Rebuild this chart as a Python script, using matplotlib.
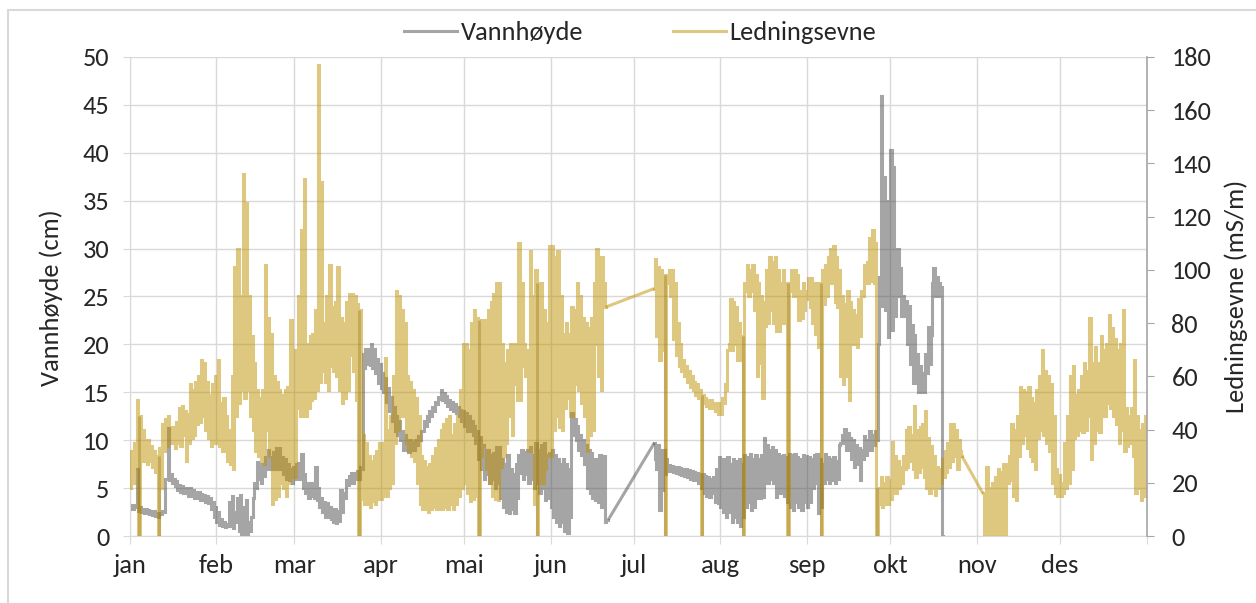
import matplotlib
matplotlib.use("Agg")
import matplotlib.pyplot as plt
import numpy as np
from matplotlib import font_manager
from matplotlib.lines import Line2D
from matplotlib.patches import Rectangle

available = {f.name for f in font_manager.fontManager.ttflist}
plt.rcParams["font.family"] = [f for f in ["Carlito", "Lato"] if f in available] + ["DejaVu Sans"]

# two readings per day (first, second); None = no data that day
# Vannhøyde (cm)
level_jan = [(2.8, 3.2), (2.8, 3.2), (3, 7), (2.6, 3), (2.5, 2.8), (2.4, 2.8), (2.4, 2.7), (2.3, 2.6),
             (2.2, 2.6), (2.1, 2.4), (2.0, 2.4), (2.3, 2.6), (2.5, 6), (6, 11.3), (5.8, 6.5), (5.5, 6),
             (5.2, 5.7), (4.8, 5.3), (4.6, 5.2), (4.5, 5.0), (4.5, 5.0), (4.2, 5.0), (4.2, 4.8), (4.0, 4.6),
             (4.0, 4.6), (3.8, 4.4), (3.8, 4.3), (3.6, 4.2), (3.4, 4.0), (2.8, 3.6), (2.0, 3.0)]
level_feb = [(1.5, 2.5), (1.2, 1.8), (1.0, 1.5), (0.9, 1.3), (1, 3.5), (1.0, 4.2), (0.8, 2.5), (1.5, 4.0),
             (0.5, 4.3), (0, 3.0), (0, 3.8), (0, 1.5), (0.5, 2), (4, 5.5), (5, 7.7), (6, 7.5),
             (5.5, 7.5), (6.3, 8.2), (7, 9), (7, 8.2), (7, 8.8), (7, 9.2), (7, 9.2), (7, 8.2),
             (6.5, 8), (6, 7.5), (5.8, 7), (5.5, 7.2)]
level_mar = [(6, 7.5), (6, 7.6), (6, 8.6), (5, 6.5), (4.5, 5.5), (4, 5.5), (4.2, 5.5), (4, 7.2),
             (3.8, 5), (3, 4), (2.5, 3.5), (2, 3.4), (2, 3), (1.8, 2.8), (1.5, 2.8), (1.4, 2.6),
             (1.6, 4.8), (2.5, 4.5), (4, 5.8), (5.3, 6.3), (5.5, 6.6), (5.5, 6.6), (6, 6.8), (6, 7.2),
             (7, 19), (17.5, 19.5), (18, 19.5), (17.8, 20), (17.5, 19.5), (17, 18.5), (16, 18)]
level_apr = [(15.5, 17), (15, 16.5), (14, 15.5), (13, 14.5), (12, 13.5), (11, 12.5), (10.5, 12), (10, 11),
             (9, 10.5), (9, 10), (8.8, 10), (9, 9.8), (9, 10), (9.5, 10.4), (10, 11), (11, 12),
             (11.5, 12.5), (12, 13), (12.5, 13.5), (13, 14), (13.8, 14.5), (14.3, 15.2), (14.2, 14.9), (14, 14.6),
             (13.6, 14.2), (13.3, 14), (13, 13.8), (12.8, 13.5), (12.5, 13.2), (12, 13)]
level_mai = [(11.5, 12.8), (11, 12.5), (11, 12), (10.5, 11.5), (9.7, 11), (8, 10.3), (7, 9.5), (6, 9),
             (6.5, 9), (5.5, 8.5), (6, 8.7), (5, 9.3), (5.5, 9.3), (4, 8), (3, 7.5), (2.5, 8.5),
             (2.4, 7), (2.8, 6.5), (2.4, 7.5), (4, 8.5), (6.6, 9), (6, 8.8), (6.5, 9), (5.5, 9.3),
             (6, 8.5), (5, 9.7), (5.5, 9), (4.5, 9.5), (5, 9.7), (3.8, 8.5), (4, 8.7)]
level_jun = [(3, 9), (2, 8.5), (1.5, 8), (1, 7.5), (1.5, 8), (0.5, 7.5), (0.3, 7), (2, 12.8),
             (10.5, 12.2), (10, 11.5), (9, 10.5), (8.5, 10), (7.5, 9.5), (5, 9), (4.5, 8.7), (4, 8),
             (3.8, 8), (3.5, 8.5), (3, 8), (8.4, 1.5), (1.7, 1.7),
             None, None, None, None, None, None, None, None, None]
level_jul = [None, None, None, None, None, None, None,
             (9.7, 8), (7, 9.5), (2.7, 9), (4.8, 9), (6.5, 8), (6.8, 7.4), (6.8, 7.3), (6.7, 7.2),
             (6.6, 7.2), (6.5, 7.1), (6.4, 7.0), (6.3, 7.0), (6.2, 6.9), (6.0, 6.8), (5.8, 6.7), (5.8, 6.6),
             (5.5, 6.5), (5, 6.5), (4.5, 6.3), (4.2, 6.2), (4.1, 6), (4.5, 6.2), (3.5, 7), (3.4, 8.2)]
level_aug = [(3, 8), (2.5, 8), (2, 8.2), (2.5, 7.5), (1.5, 8), (2, 7.8), (1.5, 8), (1, 7.5),
             (2, 8.5), (3, 8.2), (3.5, 8.6), (2.7, 8), (3, 8.5), (4, 8), (4, 8.5), (4.1, 10.2),
             (5.5, 9.5), (5.5, 9), (6, 9.3), (5.5, 9), (4.1, 8.6), (4.5, 8.3), (4.5, 8.5), (4.2, 8.2),
             (3.5, 8.6), (3, 8.5), (2.7, 8.6), (3.5, 8.2), (3, 8), (2.7, 8.5), (3.5, 8.3)]
level_sep = [(3, 8.2), (3.5, 8), (5, 8.5), (5.5, 8.6), (2.4, 8), (3, 7.5), (5.5, 8.6), (6, 8.2),
             (5.5, 8), (5.8, 8.2), (5.5, 7.8), (6, 9.5), (9.7, 10.5), (9.7, 11.2), (9, 10.7), (9, 10.2),
             (8, 10), (7.2, 9.5), (7.5, 9.2), (5.8, 9), (8, 10.4), (8.5, 10), (9, 11), (9, 10.5),
             (9.5, 11), (10, 20), (27, 45.9), (24, 37.5), (23.6, 35), (20.8, 22)]
level_okt = [(40.3, 21.5), (38.5, 23), (25, 30), (25, 28), (23, 25), (23, 24.5), (20, 24), (18, 22),
             (16, 21), (16, 19), (15, 17.7), (15, 17), (15, 19), (17, 21.8), (18, 21), (26.4, 28),
             (25, 27), (25, 26.4), (26, 0)]

# Ledningsevne (mS/m)
cond_jan = [(18, 32), (20, 35), (25, 51), (0, 45), (28, 40), (28, 36), (27, 36), (28, 34),
            (26, 32), (24, 30), (0, 33), (18, 42), (32, 44), (34, 45), (35, 41), (35, 41),
            (33, 43), (35, 48), (34, 49), (38, 47), (28, 46), (35, 57), (37, 55), (38, 58),
            (42, 60), (43, 66), (45, 65), (40, 58), (37, 53), (34, 57), (35, 60)]
cond_feb = [(35, 66), (34, 50), (32, 52), (32, 45), (28, 40), (27, 60), (25, 101), (45, 108),
            (50, 90), (55, 136), (52, 125), (55, 90), (45, 75), (40, 65), (32, 55), (30, 52),
            (28, 55), (27, 102), (40, 82), (30, 76), (12, 60), (14, 58), (15, 55), (20, 53),
            (18, 55), (15, 56), (20, 81), (22, 70)]
cond_mar = [(22, 70), (48, 90), (45, 115), (45, 134), (45, 72), (48, 75), (51, 76), (52, 85),
            (55, 177), (58, 133), (62, 80), (58, 90), (55, 102), (64, 86), (62, 88), (60, 101),
            (55, 82), (50, 80), (52, 88), (55, 91), (68, 91), (62, 90), (51, 87), (0, 85),
            (14, 38), (12, 35), (12, 30), (11, 28), (13, 30), (12, 32), (14, 35)]
cond_apr = [(14, 35), (15, 67), (15, 40), (18, 45), (20, 60), (35, 92), (40, 90), (45, 85),
            (45, 80), (35, 60), (32, 58), (30, 55), (28, 52), (20, 45), (12, 30), (10, 28),
            (10, 26), (9, 27), (10, 30), (11, 33), (10, 36), (10, 40), (10, 42), (11, 44),
            (10, 45), (12, 38), (10, 42), (12, 45), (15, 55), (18, 72)]
cond_mai = [(20, 72), (16, 70), (13, 80), (14, 85), (15, 82), (0, 81), (30, 81), (34, 81),
            (25, 85), (20, 88), (15, 91), (14, 95), (13.5, 95), (26, 72), (30, 65), (35, 70),
            (45, 72), (38, 72), (57, 72), (51, 110), (51, 95), (64, 72), (60, 70), (32, 107),
            (32, 90), (12, 100), (0, 95), (20, 95), (20, 85), (25, 80), (30, 109)]
cond_jun = [(30, 109), (40, 105), (45, 107), (41, 90), (40, 76), (48, 80), (52, 76), (45, 86),
            (45, 85), (57, 95), (55, 90), (50, 82), (45, 80), (32, 78), (38, 82), (40, 95),
            (72, 108), (60, 105), (55, 105), (95, 86),
            None, None, None, None, None, None, None, None, None, None]
cond_jul = [None, None, None, None, None, None, None,
            (93, 104), (75, 101), (66, 100), (70, 98), (0, 98), (95, 100), (90, 100), (74, 95),
            (68, 80), (64, 72), (62, 66), (60, 64), (58, 62), (56, 60), (55, 58), (53, 57),
            (52, 55), (0, 53), (50, 52), (49, 51), (48, 51), (48, 50), (47, 50), (46, 50)]
cond_aug = [(46, 52), (50, 57), (55, 70), (72, 89), (70, 88), (72, 86), (66, 80), (66, 75),
            (0, 95), (92, 102), (90, 100), (92, 102), (85, 98), (60, 95), (65, 90), (52, 88),
            (79, 100), (80, 105), (85, 103), (80, 105), (77, 100), (77, 95), (80, 100), (80, 95),
            (0, 95), (92, 100), (90, 100), (90, 98), (81, 92), (82, 95), (85, 92)]
cond_sep = [(89, 97), (86, 97), (80, 95), (76, 95), (71, 95), (0, 100), (87, 102), (90, 105),
            (95, 108), (95, 109), (88, 105), (86, 100), (60, 90), (57, 87), (60, 92), (51, 88),
            (72, 85), (72, 83), (71, 89), (75, 92), (90, 102), (95, 103), (95, 112), (96, 115),
            (95, 110), (0, 18), (12, 22), (11, 20), (12, 22), (12, 21)]
cond_okt = [(14, 35.5), (16, 30), (16, 28), (18, 26), (20, 30), (25, 40), (26, 41), (28, 38),
            (25, 49), (22, 40), (24, 41), (26, 42), (22, 47), (18, 37), (16, 34), (18, 30),
            (15.4, 26), (18, 25), (20, 29), (22, 32), (24, 35), (26, 42), (28, 42), (30, 40),
            (25, 36), (32, 30), None, None, None, None, None]
cond_nov = [None, None, (16, 0), (0, 26), (0, 18), (0, 20), (0, 22), (0, 25),
            (0, 24), (0, 27), (0, 27), (20, 30), (21, 42), (15, 40), (13.5, 45), (30, 56),
            (35, 55), (38, 54), (33, 56), (30, 52), (28, 50), (25, 55), (37, 60), (40, 70),
            (38, 62), (35, 60), (32, 57), (20, 45), (16, 25), (15, 23)]
cond_des = [(15, 20), (16, 35), (18, 45), (20, 60), (25, 64), (37, 53), (38, 55), (40, 60),
            (39, 65), (40, 62), (45, 82), (29, 65), (35, 71), (40, 65), (39, 75), (45, 70),
            (45, 72), (50, 83), (48, 78), (45, 74), (42, 70), (35, 72), (40, 85), (32, 48),
            (34, 45), (35, 48), (30, 66), (16, 45), (18, 40), (13.5, 42), (15, 45)]

months = ["jan", "feb", "mar", "apr", "mai", "jun", "jul", "aug", "sep", "okt", "nov", "des"]
month_days = [31, 28, 31, 30, 31, 30, 31, 31, 30, 31, 30, 31]

level = [level_jan, level_feb, level_mar, level_apr, level_mai, level_jun,
         level_jul, level_aug, level_sep, level_okt]
cond = [cond_jan, cond_feb, cond_mar, cond_apr, cond_mai, cond_jun,
        cond_jul, cond_aug, cond_sep, cond_okt, cond_nov, cond_des]

GRAY = "#4d4d4d"
GOLD = "#bf9000"
GRID = "#d9d9d9"
TEXT = "#262626"
FS = 19
LW = 2.2


def to_runs(month_lists):
    # split into runs of consecutive days, two time stamps per day
    runs, t, v = [], [], []
    day = 0
    for month in month_lists:
        for reading in month:
            if reading is None:
                if t:
                    runs.append((np.array(t), np.array(v)))
                    t, v = [], []
            else:
                t += [day + 0.25, day + 0.75]
                v += list(reading)
            day += 1
    if t:
        runs.append((np.array(t), np.array(v)))
    return runs


def draw_series(axis, runs, color):
    for t, v in runs:
        axis.plot(t, v, color=color, alpha=0.5, lw=LW, drawstyle="steps-mid",
                  solid_joinstyle="miter")
    # missing stretches are bridged with a straight line
    for (t0, v0), (t1, v1) in zip(runs[:-1], runs[1:]):
        axis.plot([t0[-1], t1[0]], [v0[-1], v1[0]], color=color, alpha=0.5, lw=LW,
                  solid_capstyle="butt")


def drop_outs(runs):
    # single readings that fall to zero between normal values
    xs, tops = [], []
    for t, v in runs:
        for i in range(2, len(v) - 2):
            if v[i] == 0 and min(v[i - 2], v[i - 1], v[i + 1], v[i + 2]) > 0:
                xs.append(t[i])
                tops.append(min(v[i - 1], v[i + 1]))
    return xs, tops


level_runs = to_runs(level)
cond_runs = to_runs(cond)

fig = plt.figure(figsize=(12.56, 6.03), dpi=100)
ax = fig.add_axes([130 / 1256, 1 - 536 / 603, 1016.5 / 1256, 479 / 603])
ax2 = ax.twinx()

draw_series(ax, level_runs, GRAY)
draw_series(ax2, cond_runs, GOLD)
xs, tops = drop_outs(cond_runs)
ax2.vlines(xs, 0, tops, color="#8a6a00", alpha=0.3, lw=LW)

month_starts = np.concatenate([[0], np.cumsum(month_days)])
ax.set_xlim(0, 365)
ax.set_xticks(month_starts)
ax.set_xticklabels(months + [""])
ax.set_ylim(0, 50)
ax.set_yticks(np.arange(0, 51, 5))
ax2.set_ylim(0, 180)
ax2.set_yticks(np.arange(0, 181, 20))

ax.set_axisbelow(True)
ax.grid(True, color=GRID, lw=1.0)
ax.spines["top"].set_visible(False)
ax.spines["right"].set_visible(False)
ax2.spines["top"].set_visible(False)
ax2.spines["bottom"].set_visible(False)
ax2.spines["left"].set_visible(False)
ax.spines["left"].set_color(GRID)
ax.spines["bottom"].set_color(GRID)
ax2.spines["right"].set_color("#a6a6a6")
ax2.spines["right"].set_linewidth(1.2)

ax.tick_params(axis="y", colors=GRID, labelcolor=TEXT, labelsize=FS, length=5, pad=10)
ax.tick_params(axis="x", colors=GRID, labelcolor=TEXT, labelsize=FS, length=6, pad=7)
ax2.tick_params(axis="y", colors="#a6a6a6", labelcolor=TEXT, labelsize=FS, length=5, pad=13)

fig.text(51 / 1256, 1 - 298 / 603, "Vannhøyde (cm)", rotation=90, ha="center", va="center",
         fontsize=FS, color=TEXT)
fig.text(1236 / 1256, 1 - 296 / 603, "Ledningsevne (mS/m)", rotation=90, ha="center", va="center",
         fontsize=FS, color=TEXT)

handles = [Line2D([], [], color=GRAY, alpha=0.5, lw=LW),
           Line2D([], [], color=GOLD, alpha=0.5, lw=LW)]
fig.legend(handles, ["Vannhøyde", "Ledningsevne"], loc="center", bbox_to_anchor=(640 / 1256, 1 - 33 / 603),
           ncol=2, frameon=False, fontsize=FS, handlelength=2.0, handletextpad=0.15, columnspacing=3.4,
           labelcolor=TEXT)

fig.patches.append(Rectangle((8 / 1256, -0.02), 1.0, 1.02 - 10 / 603, transform=fig.transFigure,
                             fill=False, edgecolor=GRID, lw=1.5))

fig.savefig("out.png", dpi=100)
